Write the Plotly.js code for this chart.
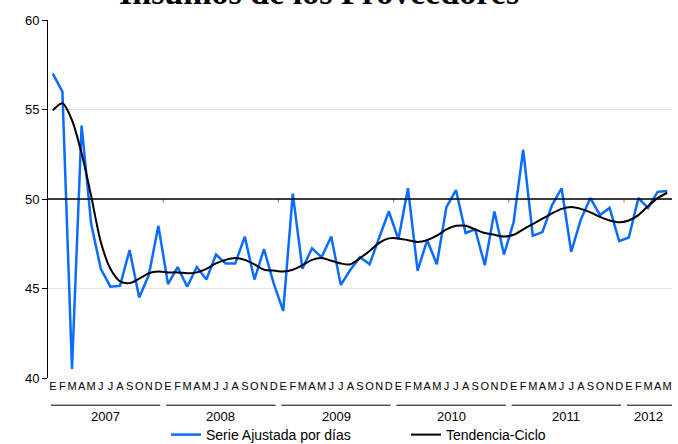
<!DOCTYPE html>
<html>
<head>
<meta charset="utf-8">
<script src="https://cdn.plot.ly/plotly-3.0.1.min.js"></script>
<style>html,body{margin:0;padding:0;background:#fff;}#chart{width:678px;height:444px;}</style>
</head>
<body>
<div id="chart"></div>
<script>
// ---- data ----
const monthLetters = ['E','F','M','A','M','J','J','A','S','O','N','D'];
const years = [2007, 2008, 2009, 2010, 2011, 2012];
const monthsPerYear = [12, 12, 12, 12, 12, 5];

const serieAjustada = [
  57.0, 56.0, 40.5, 54.1, 48.6, 46.1, 45.1, 45.15, 47.15, 44.5, 45.75, 48.5,
  45.25, 46.2, 45.1, 46.2, 45.5, 46.9, 46.4, 46.4, 47.9, 45.5, 47.2, 45.3,
  43.75, 50.3, 46.1, 47.25, 46.75, 47.9, 45.2, 46.05, 46.75, 46.35, 47.85, 49.3,
  47.75, 50.6, 46.0, 47.7, 46.35, 49.55, 50.5, 48.1, 48.3, 46.3, 49.3, 46.9,
  48.7, 52.75, 47.95, 48.15, 49.65, 50.6, 47.05, 48.85, 50.05, 49.1, 49.5, 47.65,
  47.85, 50.05, 49.5, 50.4, 50.45
];
const tendenciaCiclo = [
  54.95, 55.35, 54.4, 52.55, 50.15, 47.6, 46.1, 45.4, 45.3, 45.55, 45.85, 45.95,
  45.9, 45.9, 45.85, 45.9, 46.1, 46.4, 46.6, 46.7, 46.6, 46.35, 46.05, 46.0,
  45.95, 46.05, 46.3, 46.6, 46.7, 46.55, 46.4, 46.35, 46.7, 47.1, 47.55, 47.8,
  47.8, 47.7, 47.6, 47.7, 47.95, 48.3, 48.5, 48.5, 48.3, 48.1, 48.0, 47.9,
  48.0, 48.3, 48.6, 48.9, 49.2, 49.45, 49.55, 49.45, 49.25, 49.0, 48.8, 48.7,
  48.8, 49.1, 49.6, 50.05, 50.35
];

// ---- build axis ----
const tickText = [];
years.forEach((y, k) => { for (let m = 0; m < monthsPerYear[k]; m++) tickText.push(monthLetters[m]); });
const xIdx = tickText.map((_, i) => i);

const shapes = [];
const annotations = [];
let start = 0;
years.forEach((y, k) => {
  const n = monthsPerYear[k];
  const end = start + n;
  shapes.push({type:'line', xref:'x', yref:'paper', x0:start - 0.5 + 0.3, x1:(k === years.length-1 ? end - 0.5 : end - 0.5 - 0.3), y0:-0.076, y1:-0.076, line:{color:'#000', width:1}});
  annotations.push({xref:'x', yref:'paper', x:start + (n-1)/2, y:-0.107, text:String(y), showarrow:false, yanchor:'middle', font:{family:'Liberation Sans, Arial', size:13, color:'#000'}});
  if (k > 0) shapes.push({type:'line', xref:'x', yref:'y', x0:start-0.5, x1:start-0.5, y0:50, y1:49.8, line:{color:'#777', width:1}});
  start = end;
});
// horizontal reference line at 50
shapes.push({type:'line', xref:'paper', yref:'y', x0:0, x1:1, y0:50, y1:50, line:{color:'#000', width:1.3}, layer:'above'});

annotations.push({xref:'paper', yref:'paper', x:(319-48)/624, y:1.078, xanchor:'center', yanchor:'middle', showarrow:false,
  text:'<b>Insumos de los Proveedores</b>', font:{family:'Liberation Serif, Times New Roman, serif', size:34, color:'#000'}});

const traces = [
  {x:xIdx, y:serieAjustada, type:'scatter', mode:'lines', name:'Serie Ajustada por días', line:{color:'#0a6cff', width:2.5}},
  {x:xIdx, y:tendenciaCiclo, type:'scatter', mode:'lines', name:'Tendencia-Ciclo', line:{color:'#000', width:2, shape:'spline', smoothing:0.8}}
];

const layout = {
  width:678, height:444,
  margin:{l:48, r:6, t:20, b:66},
  paper_bgcolor:'#fff', plot_bgcolor:'#fff',
  showlegend:true,
  legend:{orientation:'h', xref:'container', yref:'container', x:166/678, xanchor:'left', y:(444-435)/444, yanchor:'middle',
    font:{family:'Liberation Sans, Arial', size:14, color:'#000'}, entrywidth:195, entrywidthmode:'pixels', bgcolor:'rgba(0,0,0,0)', tracegroupgap:0},
  xaxis:{range:[-0.5, 64.5], tickmode:'array', tickvals:xIdx, ticktext:tickText, showgrid:false, zeroline:false, showline:false, ticks:'', tickangle:0,
    tickfont:{family:'Liberation Sans, Arial', size:11, color:'#000'}, fixedrange:true, automargin:false},
  yaxis:{range:[40, 60], tickvals:[40,45,50,55,60], showgrid:true, gridcolor:'#e3e3e3', gridwidth:1, zeroline:false, showline:true, linecolor:'#000', linewidth:1,
    ticks:'outside', ticklen:5, tickcolor:'#000', tickfont:{family:'Liberation Sans, Arial', size:13, color:'#000'}, fixedrange:true, automargin:false},
  shapes:shapes,
  annotations:annotations
};

Plotly.newPlot('chart', traces, layout, {displayModeBar:false, staticPlot:true});
</script>
</body>
</html>
